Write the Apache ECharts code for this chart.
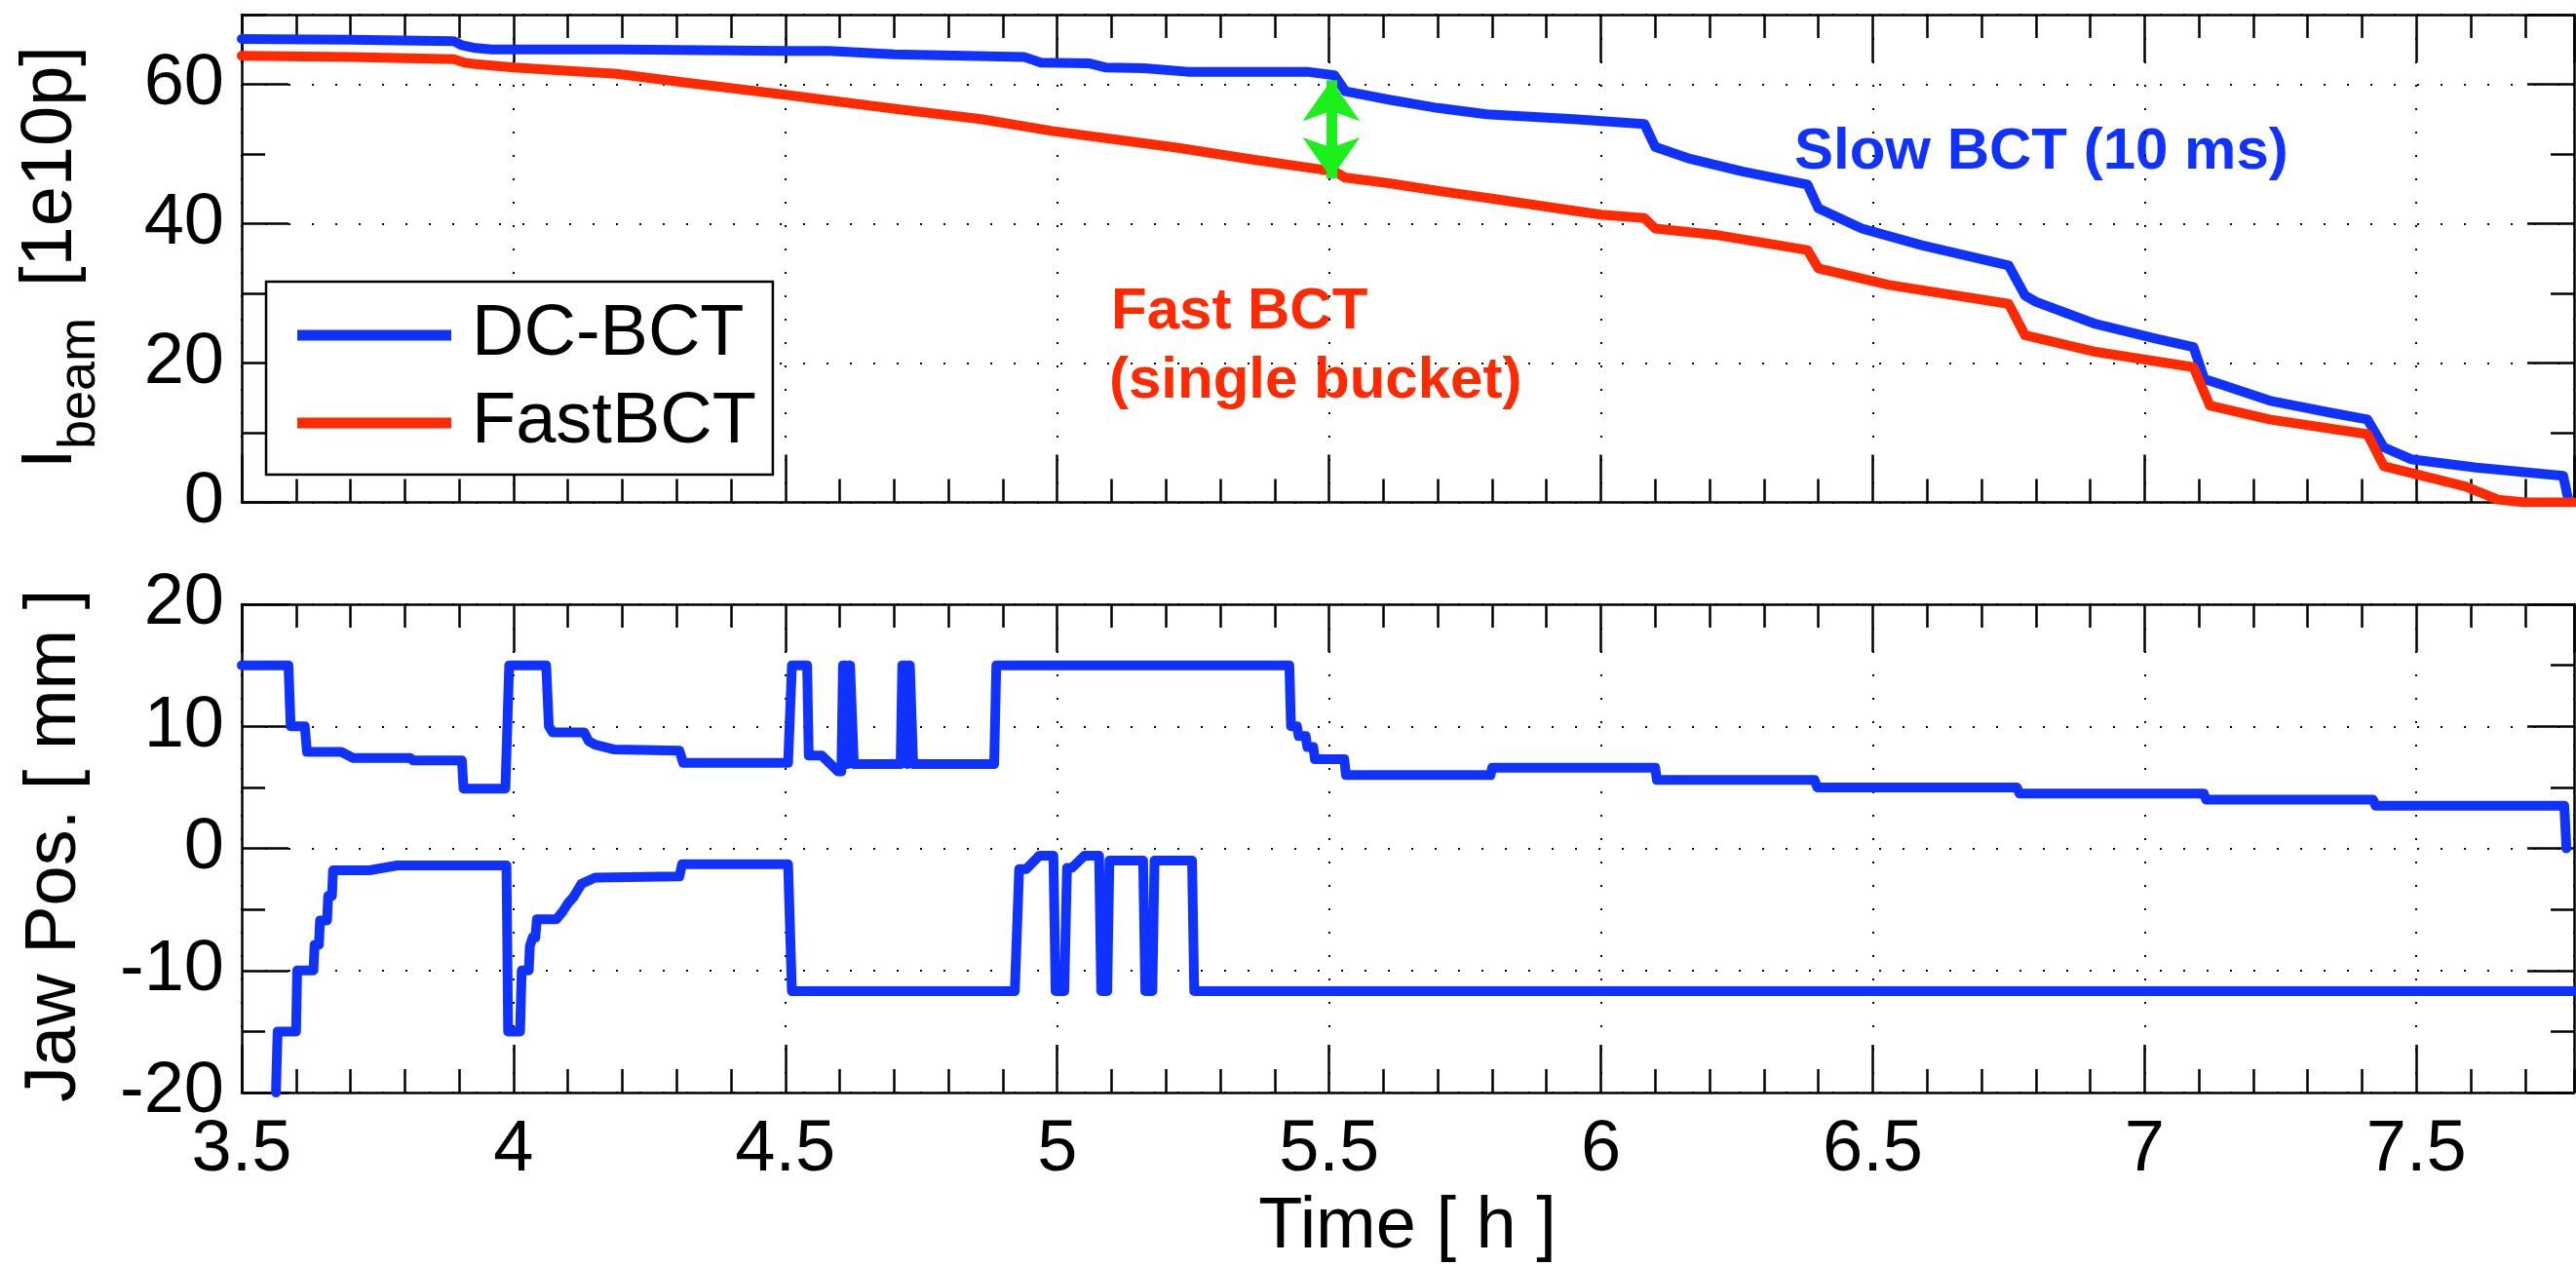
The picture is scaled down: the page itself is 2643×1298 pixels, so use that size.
<!DOCTYPE html>
<html>
<head>
<meta charset="utf-8">
<script src="https://cdn.jsdelivr.net/npm/echarts@6/dist/echarts.min.js"></script>
<style>
html,body{margin:0;padding:0;background:#fff;}
#chart{width:2643px;height:1298px;}
</style>
</head>
<body>
<div id="chart"></div>
<script>
// ---------------- data ----------------
const legendNames = ['DC-BCT', 'FastBCT'];

const dcTime = [3.50, 3.70, 3.89, 3.905, 3.93, 3.96, 4.20, 4.50, 4.58, 4.70, 4.83, 4.94, 4.97, 5.06, 5.09, 5.16, 5.24, 5.46, 5.51, 5.53, 5.61, 5.70, 5.79, 5.95, 6.08, 6.10, 6.16, 6.26, 6.38, 6.40, 6.48, 6.59, 6.75, 6.78, 6.80, 6.91, 7.02, 7.09, 7.11, 7.13, 7.23, 7.34, 7.41, 7.44, 7.49, 7.61, 7.77, 7.78];
const dcBeam = [66.5, 66.4, 66.2, 65.6, 65.2, 65.0, 65.0, 64.8, 64.8, 64.3, 64.1, 63.9, 63.1, 63.0, 62.4, 62.3, 61.8, 61.8, 61.3, 59.0, 57.8, 56.6, 55.7, 55.0, 54.3, 51.0, 49.4, 47.5, 45.6, 42.2, 39.3, 36.9, 34.0, 29.7, 28.8, 25.6, 23.5, 22.3, 17.7, 17.2, 14.6, 12.9, 11.9, 7.9, 6.2, 5.0, 3.8, 0.2];

const fastTime = [3.50, 3.70, 3.89, 3.91, 3.93, 4.00, 4.19, 4.32, 4.50, 4.58, 4.71, 4.86, 4.99, 5.22, 5.36, 5.51, 5.53, 5.61, 5.71, 5.79, 5.92, 6.00, 6.08, 6.10, 6.21, 6.38, 6.40, 6.53, 6.75, 6.78, 6.91, 7.09, 7.12, 7.23, 7.41, 7.44, 7.59, 7.65, 7.70, 7.79];
const fastBeam = [64.1, 63.9, 63.6, 63.1, 62.9, 62.4, 61.5, 60.2, 58.5, 57.7, 56.4, 55.0, 53.3, 50.9, 49.2, 47.5, 46.6, 45.8, 44.6, 43.7, 42.2, 41.3, 40.8, 39.3, 38.4, 36.2, 33.6, 31.2, 28.5, 24.0, 21.6, 19.4, 13.9, 11.9, 9.8, 5.2, 2.3, 0.4, 0.0, 0.0];

const upperTime = [3.500, 3.586, 3.590, 3.616, 3.620, 3.683, 3.705, 3.810, 3.815, 3.905, 3.908, 3.985, 3.992, 4.060, 4.065, 4.072, 4.130, 4.138, 4.150, 4.186, 4.305, 4.312, 4.505, 4.512, 4.540, 4.543, 4.567, 4.597, 4.603, 4.606, 4.611, 4.615, 4.619, 4.626, 4.712, 4.715, 4.721, 4.725, 4.729, 4.735, 4.884, 4.888, 5.427, 5.430, 5.441, 5.444, 5.457, 5.460, 5.471, 5.474, 5.528, 5.531, 5.797, 5.800, 6.100, 6.103, 6.393, 6.398, 6.765, 6.770, 7.109, 7.113, 7.420, 7.425, 7.772, 7.776];
const upperPos  = [15.0, 15.0, 10.0, 10.0, 7.9, 7.9, 7.4, 7.4, 7.2, 7.2, 4.9, 4.9, 15.0, 15.0, 10.0, 9.5, 9.5, 8.8, 8.5, 8.1, 8.0, 7.0, 7.0, 15.0, 15.0, 7.6, 7.6, 6.3, 6.3, 15.0, 15.0, 6.9, 15.0, 6.9, 6.9, 15.0, 15.0, 6.9, 15.0, 6.9, 6.9, 15.0, 15.0, 10.0, 10.0, 9.2, 9.2, 8.3, 8.3, 7.3, 7.3, 6.0, 6.0, 6.6, 6.6, 5.6, 5.6, 5.0, 5.0, 4.5, 4.5, 4.0, 4.0, 3.5, 3.5, 0.0];

const lowerTime = [3.563, 3.566, 3.600, 3.602, 3.632, 3.634, 3.642, 3.644, 3.657, 3.659, 3.666, 3.668, 3.735, 3.786, 3.987, 3.990, 4.012, 4.015, 4.028, 4.030, 4.035, 4.040, 4.043, 4.079, 4.090, 4.100, 4.110, 4.125, 4.150, 4.305, 4.310, 4.505, 4.512, 4.922, 4.930, 4.943, 4.967, 4.993, 4.997, 5.013, 5.018, 5.027, 5.050, 5.077, 5.081, 5.092, 5.096, 5.158, 5.162, 5.175, 5.179, 5.248, 5.252, 7.79];
const lowerPos  = [-20.0, -15.0, -15.0, -10.0, -10.0, -7.9, -7.9, -5.9, -5.9, -3.9, -3.9, -1.8, -1.8, -1.4, -1.4, -15.0, -15.0, -10.0, -10.0, -8.0, -7.3, -7.3, -5.8, -5.8, -5.2, -4.5, -4.0, -2.9, -2.4, -2.3, -1.3, -1.3, -11.7, -11.7, -1.7, -1.7, -0.6, -0.6, -11.7, -11.7, -1.6, -1.6, -0.6, -0.6, -11.7, -11.7, -1.0, -1.0, -11.7, -11.7, -1.0, -1.0, -11.7, -11.7];

// double arrow between the two BCT readings (tip positions)
const arrowTime = 5.504;
const arrowFrom = 60.6;
const arrowTo = 46.5;

// axis ranges / ticks
const timeMin = 3.5, timeMax = 7.79, timeMajor = 0.5, timeMinor = 0.1;
const beamMin = 0, beamMax = 70, beamMajor = 20, beamMinor = 10;
const jawMin = -20, jawMax = 20, jawMajor = 10, jawMinor = 5;

// ---------------- styling ----------------
const FONT = '"Liberation Sans", Arial, Helvetica, sans-serif';
const BLUE = '#1032ff';
const RED = '#ff2a00';
const GREEN = '#1cf01c';
const zip = (a, b) => a.map((v, i) => [v, b[i]]);

const chart = echarts.init(document.getElementById('chart'), null, {renderer: 'canvas'});

const gridDefs = [
  {left: 248, right: 2, top: 15, height: 500.5, containLabel: false, outerBoundsMode: 'none'},
  {left: 248, right: 2, top: 620, height: 501, containLabel: false, outerBoundsMode: 'none'}
];

const dotted = {show: true, lineStyle: {color: '#000', width: 2, type: [2, 22]}};

function xAxisDef(grid, pos, interval, tickLen, withLine, withLabel, withSplit) {
  return {
    type: 'value', gridIndex: grid, position: pos, min: timeMin, max: timeMax, interval: interval,
    axisLine: {show: withLine, onZero: false, lineStyle: {color: '#000', width: 2.5}},
    axisTick: {show: true, inside: true, length: tickLen, lineStyle: {color: '#000', width: 2.5}},
    axisLabel: {show: withLabel, margin: 23, fontSize: 74, fontFamily: FONT, color: '#000',
                showMaxLabel: false, showMinLabel: true},
    splitLine: withSplit ? dotted : {show: false},
    minorTick: {show: false}
  };
}
function yAxisDef(grid, pos, min, max, interval, tickLen, withLine, withLabel, withSplit, showMax) {
  return {
    type: 'value', gridIndex: grid, position: pos, min: min, max: max, interval: interval,
    axisLine: {show: withLine, onZero: false, lineStyle: {color: '#000', width: 2.5}},
    axisTick: {show: true, inside: true, length: tickLen, lineStyle: {color: '#000', width: 2.5}},
    axisLabel: {show: withLabel, margin: 18, fontSize: 74, fontFamily: FONT, color: '#000',
                padding: [8, 0, 0, 0], showMaxLabel: showMax, showMinLabel: true},
    splitLine: withSplit ? dotted : {show: false}
  };
}

const xAxes = [
  xAxisDef(0, 'bottom', timeMajor, 49, true, false, true),
  xAxisDef(0, 'bottom', timeMinor, 24, false, false, false),
  xAxisDef(0, 'top', timeMajor, 49, true, false, false),
  xAxisDef(0, 'top', timeMinor, 24, false, false, false),
  xAxisDef(1, 'bottom', timeMajor, 49, true, true, true),
  xAxisDef(1, 'bottom', timeMinor, 24, false, false, false),
  xAxisDef(1, 'top', timeMajor, 49, true, false, false),
  xAxisDef(1, 'top', timeMinor, 24, false, false, false)
];
const yAxes = [
  yAxisDef(0, 'left', beamMin, beamMax, beamMajor, 48, true, true, true, false),
  yAxisDef(0, 'left', beamMin, beamMax, beamMinor, 24, false, false, false, false),
  yAxisDef(0, 'right', beamMin, beamMax, beamMajor, 48, true, false, false, false),
  yAxisDef(0, 'right', beamMin, beamMax, beamMinor, 24, false, false, false, false),
  yAxisDef(1, 'left', jawMin, jawMax, jawMajor, 48, true, true, true, true),
  yAxisDef(1, 'left', jawMin, jawMax, jawMinor, 24, false, false, false, false),
  yAxisDef(1, 'right', jawMin, jawMax, jawMajor, 48, true, false, false, false),
  yAxisDef(1, 'right', jawMin, jawMax, jawMinor, 24, false, false, false, false)
];

function lineSeries(name, data, color, xi, yi, extra) {
  return Object.assign({
    type: 'line', name: name, data: data, xAxisIndex: xi, yAxisIndex: yi,
    showSymbol: false, symbol: 'none', color: color, itemStyle: {color: color},
    lineStyle: {color: color, width: 10, cap: 'round', join: 'round'},
    emphasis: {disabled: true}, silent: true, z: 3
  }, extra || {});
}

const option = {
  backgroundColor: '#fff',
  animation: false,
  grid: gridDefs,
  xAxis: xAxes,
  yAxis: yAxes,
  legend: {
    data: legendNames, orient: 'vertical', left: 273, top: 289,
    padding: [15, 17, 13, 32], itemGap: 10, itemWidth: 158, itemHeight: 11, icon: 'rect',
    borderColor: '#000', borderWidth: 2.5, backgroundColor: '#fff', selectedMode: false,
    textStyle: {fontSize: 74, fontFamily: FONT, color: '#000', lineHeight: 80, padding: [0, 0, 0, 16]},
    z: 10
  },
  series: [
    lineSeries(legendNames[0], zip(dcTime, dcBeam), BLUE, 0, 0, {
      markLine: {
        silent: true, symbol: ['arrow', 'arrow'], symbolSize: [44, 42], precision: 3,
        label: {show: false}, emphasis: {disabled: true},
        lineStyle: {color: GREEN, width: 11, type: 'solid'},
        data: [[{coord: [arrowTime, arrowFrom]}, {coord: [arrowTime, arrowTo]}]]
      }
    }),
    lineSeries(legendNames[1], zip(fastTime, fastBeam), RED, 0, 0),
    lineSeries('Upper jaw', zip(upperTime, upperPos), BLUE, 4, 4),
    lineSeries('Lower jaw', zip(lowerTime, lowerPos), BLUE, 4, 4)
  ],
  graphic: [
    {type: 'text', x: 53, y: 481, rotation: Math.PI / 2,
     style: {text: 'I', font: '74px ' + FONT, fill: '#000', align: 'left', verticalAlign: 'middle'}},
    {type: 'text', x: 82, y: 461, rotation: Math.PI / 2,
     style: {text: 'beam', font: '54px ' + FONT, fill: '#000', align: 'left', verticalAlign: 'middle'}},
    {type: 'text', x: 53, y: 294, rotation: Math.PI / 2,
     style: {text: '[1e10p]', font: '74px ' + FONT, fill: '#000', align: 'left', verticalAlign: 'middle'}},
    {type: 'text', x: 57, y: 1131, rotation: Math.PI / 2,
     style: {text: 'Jaw Pos. [ mm ]', font: '74px ' + FONT, fill: '#000', align: 'left', verticalAlign: 'middle'}},
    {type: 'text', x: 1444, y: 1260,
     style: {text: 'Time [ h ]', font: '74px ' + FONT, fill: '#000', align: 'center', verticalAlign: 'middle'}},
    {type: 'text', x: 1841, y: 156,
     style: {text: 'Slow BCT (10 ms)', font: 'bold 60px ' + FONT, fill: BLUE, align: 'left', verticalAlign: 'middle'}},
    {type: 'text', x: 1140, y: 320,
     style: {text: 'Fast BCT', font: 'bold 60px ' + FONT, fill: RED, align: 'left', verticalAlign: 'middle'}},
    {type: 'text', x: 1138, y: 391,
     style: {text: '(single bucket)', font: 'bold 60px ' + FONT, fill: RED, align: 'left', verticalAlign: 'middle'}}
  ]
};
chart.setOption(option);
</script>
</body>
</html>
